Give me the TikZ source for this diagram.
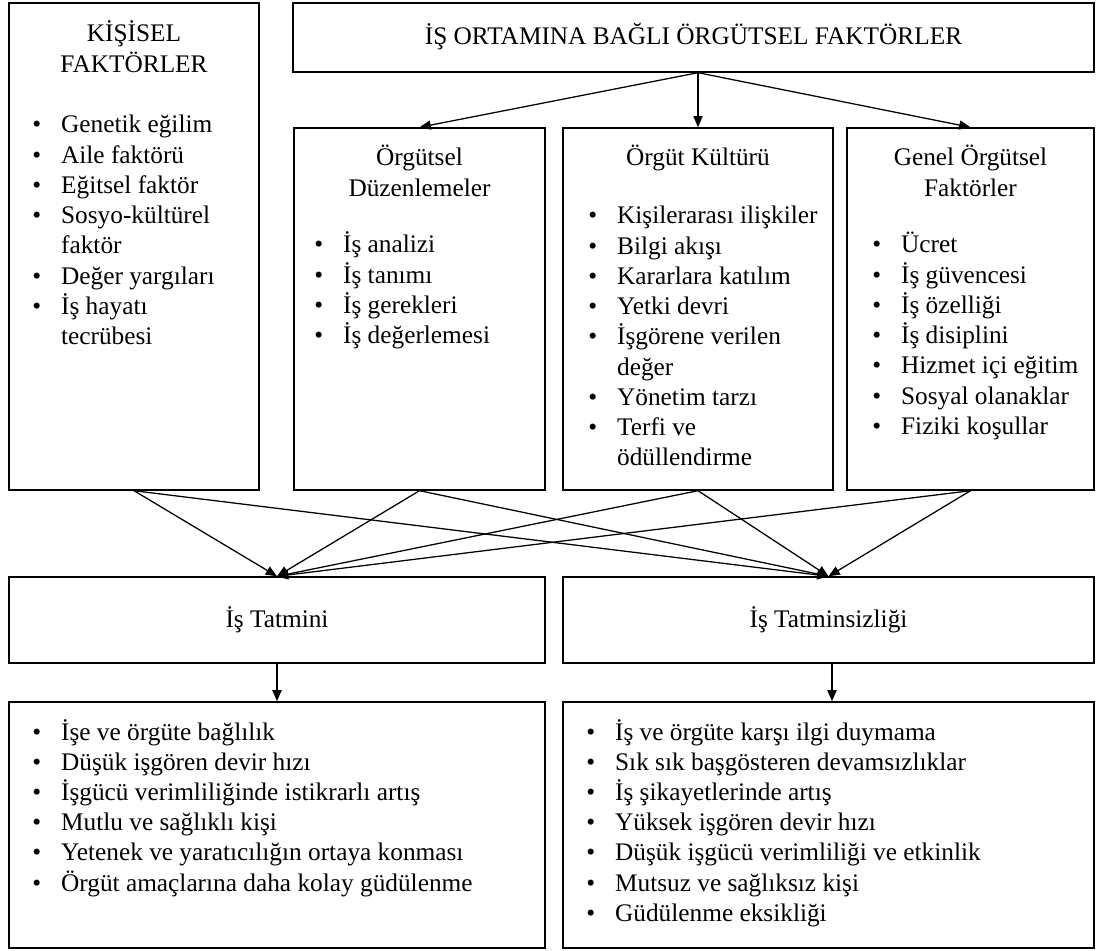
\documentclass[tikz,border=0pt]{standalone}
\usepackage{fontspec}
\setmainfont{Liberation Serif}
\usetikzlibrary{arrows.meta,fit}

\tikzset{
  box/.style={draw, line width=1pt, inner sep=0pt},
  yazi/.style={inner sep=0pt, font=\fontsize{18}{21.5}\selectfont},
  arr/.style={-{Triangle[length=8pt,width=6.5pt]}, line width=0.9pt},
}
\newcommand{\baslik}[1]{\begin{tabular}[t]{@{}c@{}}#1\end{tabular}}
\newcommand{\maddeler}[1]{\begin{tabular}[t]{@{}l@{\hspace{0.5cm}}l@{}}#1\end{tabular}}

\begin{document}
\begin{tikzpicture}[x=0.025cm, y=-0.025cm]
    \useasboundingbox (0,0) rectangle (1099,951);

    % kutular
    \node[box, fit={(9,3) (259,490)}] (kisisel) {};
    \node[box, fit={(293,3) (1094,72)}] (ortam) {};
    \node[box, fit={(294,128) (545,490)}] (orgduz) {};
    \node[box, fit={(563,128) (833,490)}] (orgkul) {};
    \node[box, fit={(847,128) (1094,490)}] (genel) {};
    \node[box, fit={(9,577) (545,663)}] (tatmin) {};
    \node[box, fit={(563,577) (1094,663)}] (tatminsiz) {};
    \node[box, fit={(9,702) (545,948)}] (sonuc1) {};
    \node[box, fit={(563,702) (1094,948)}] (sonuc2) {};

    % basliklar
    \node[yazi, anchor=base] (ortamT) at (693.5,45) {İŞ ORTAMINA BAĞLI ÖRGÜTSEL FAKTÖRLER};
    \node[yazi, anchor=base] (kisiselT) at (134,42) {\baslik{KİŞİSEL\\FAKTÖRLER}};
    \node[yazi, anchor=base] (orgduzT) at (419.5,166) {\baslik{Örgütsel\\Düzenlemeler}};
    \node[yazi, anchor=base] (orgkulT) at (698,166) {Örgüt Kültürü};
    \node[yazi, anchor=base] (genelT) at (970.5,166) {\baslik{Genel Örgütsel\\Faktörler}};
    \node[yazi] (tatminT) at (tatmin) {İş Tatmini};
    \node[yazi] (tatminsizT) at (tatminsiz) {İş Tatminsizliği};

    % listeler
    \node[yazi, anchor=base west] (kisiselL) at (32,133) {\maddeler{
        • & Genetik eğilim\\
        • & Aile faktörü\\
        • & Eğitsel faktör\\
        • & Sosyo-kültürel\\
          & faktör\\
        • & Değer yargıları\\
        • & İş hayatı\\
          & tecrübesi}};
    \node[yazi, anchor=base west] (orgduzL) at (314,253) {\maddeler{
        • & İş analizi\\
        • & İş tanımı\\
        • & İş gerekleri\\
        • & İş değerlemesi}};
    \node[yazi, anchor=base west] (orgkulL) at (588,224) {\maddeler{
        • & Kişilerarası ilişkiler\\
        • & Bilgi akışı\\
        • & Kararlara katılım\\
        • & Yetki devri\\
        • & İşgörene verilen\\
          & değer\\
        • & Yönetim tarzı\\
        • & Terfi ve\\
          & ödüllendirme}};
    \node[yazi, anchor=base west] (genelL) at (872,253) {\maddeler{
        • & Ücret\\
        • & İş güvencesi\\
        • & İş özelliği\\
        • & İş disiplini\\
        • & Hizmet içi eğitim\\
        • & Sosyal olanaklar\\
        • & Fiziki koşullar}};
    \node[yazi, anchor=base west] (sonuc1L) at (32,740) {\maddeler{
        • & İşe ve örgüte bağlılık\\
        • & Düşük işgören devir hızı\\
        • & İşgücü verimliliğinde istikrarlı artış\\
        • & Mutlu ve sağlıklı kişi\\
        • & Yetenek ve yaratıcılığın ortaya konması\\
        • & Örgüt amaçlarına daha kolay güdülenme}};
    \node[yazi, anchor=base west] (sonuc2L) at (586,740) {\maddeler{
        • & İş ve örgüte karşı ilgi duymama\\
        • & Sık sık başgösteren devamsızlıklar\\
        • & İş şikayetlerinde artış\\
        • & Yüksek işgören devir hızı\\
        • & Düşük işgücü verimliliği ve etkinlik\\
        • & Mutsuz ve sağlıksız kişi\\
        • & Güdülenme eksikliği}};

    % oklar
    \foreach \alt in {orgduz, orgkul, genel}
        \draw[arr] (orgkul.north |- ortam.south) -- (\alt.north);
    \foreach \ust in {kisisel, orgduz, orgkul, genel}{
        \draw[arr] (\ust.south) -- (tatmin.north);
        \draw[arr] (\ust.south) -- (tatminsiz.north);
    }
    \draw[arr, line width=1.3pt] (tatmin.south) -- (sonuc1.north);
    \draw[arr, line width=1.3pt] ([xshift=0.0875cm]tatminsiz.south) -- ([xshift=0.0875cm]sonuc2.north);
\end{tikzpicture}
\end{document}
